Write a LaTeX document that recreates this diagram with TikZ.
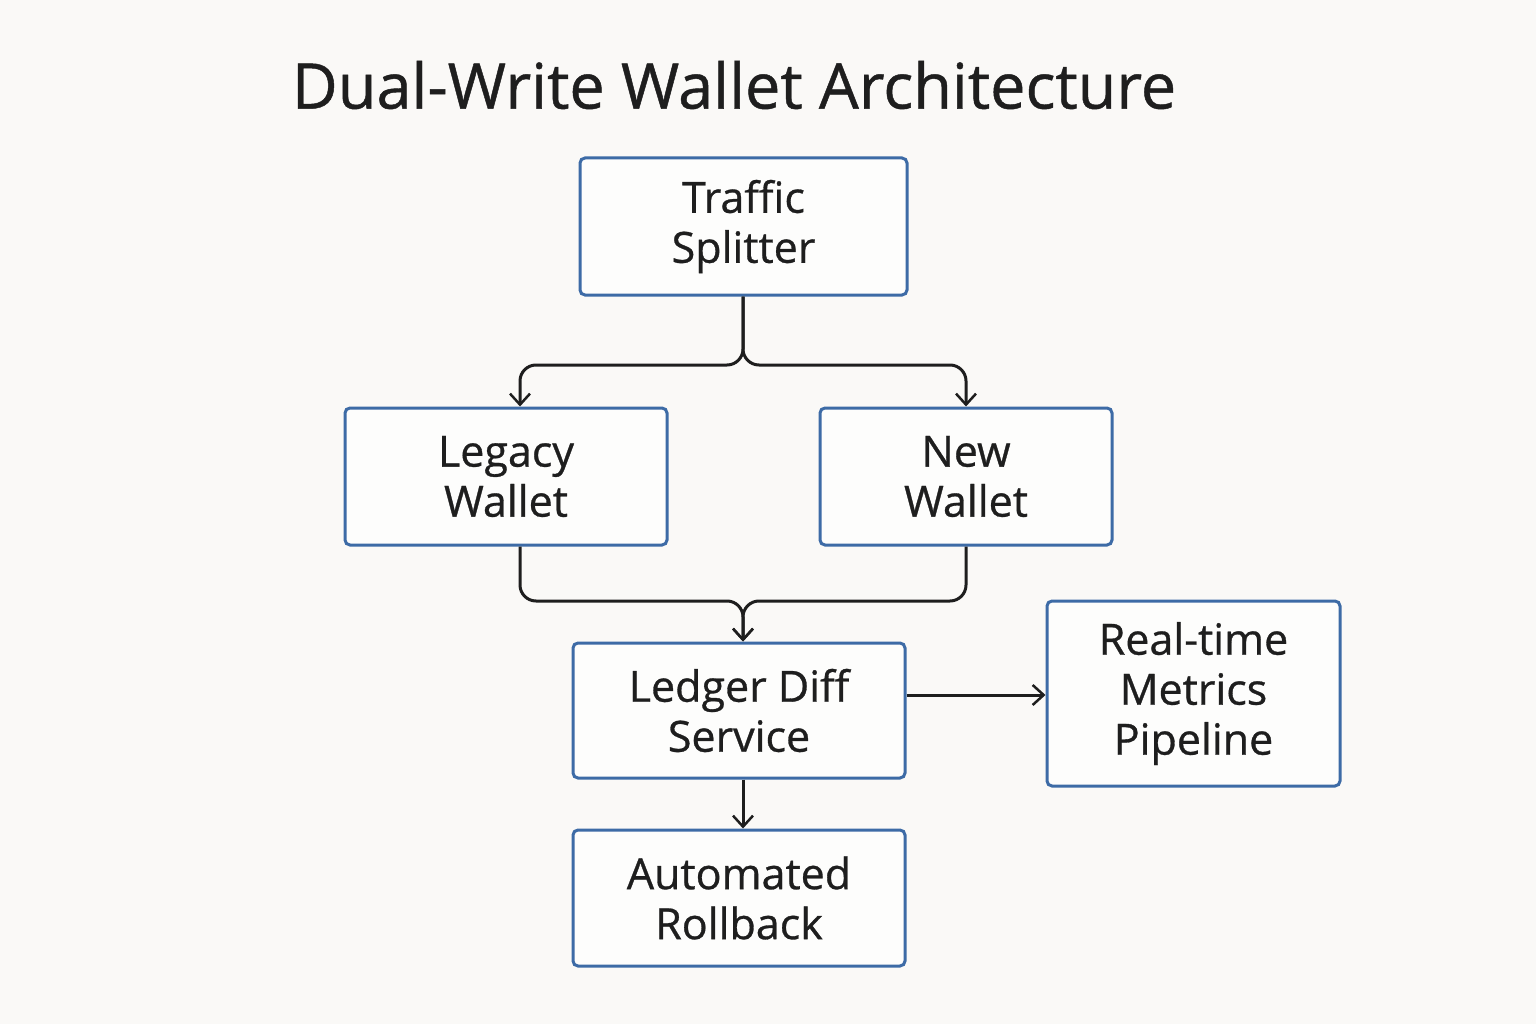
\documentclass[tikz,border=0pt]{standalone}
\usepackage{fontspec}
\setmainfont{Open Sans}[FakeBold=0.7]
\usetikzlibrary{arrows.meta}
\definecolor{bg}{HTML}{FAF9F7}
\definecolor{bd}{HTML}{3D6BA6}
\definecolor{ln}{HTML}{1E1E1E}
\begin{document}
\begin{tikzpicture}[x=1pt,y=-1pt,
 box/.style={draw=bd,line width=3pt,rounded corners=5pt,fill=white!60!bg,align=center,font=\fontsize{43}{50}\selectfont,text=ln,inner sep=0pt},
 conn/.style={draw=ln,line width=3pt,rounded corners=16pt,-{Straight Barb[length=11pt,width=20pt,line width=2.5pt]}}]
\fill[bg] (0,0) rectangle (1536,1024);
\useasboundingbox (0,0) rectangle (1536,1024);
\node[font=\fontsize{63}{70}\selectfont,text=ln] (title) at (734,85) {Dual-Write Wallet Architecture};
\node[box,minimum width=327pt,minimum height=137pt] (ts) at (743.5,226.5) {Traffic\\Splitter};
\node[box,minimum width=322pt,minimum height=137pt] (lw) at (506,476.5) {Legacy\\Wallet};
\node[box,minimum width=292pt,minimum height=137pt] (nw) at (966,476.5) {New\\Wallet};
\node[box,minimum width=332pt,minimum height=135pt] (ld) at (739,710.5) {Ledger Diff\\Service};
\node[box,minimum width=293pt,minimum height=185pt] (rt) at (1193.5,693.5) {Real-time\\Metrics\\Pipeline};
\node[box,minimum width=332pt,minimum height=136pt] (ar) at (739,898) {Automated\\Rollback};
\coordinate (s1) at (743,365);
\coordinate (m1) at (743,601);
\draw[conn] (ts.south -| s1) -- (s1) -- (520,365) -- (lw.north -| 520,0);
\draw[conn] (ts.south -| s1) -- (s1) -- (966,365) -- (nw.north -| 966,0);
\draw[conn] (lw.south -| 520,0) -- (520,601) -- (m1) -- (ld.north -| m1);
\draw[conn] (nw.south -| 966,0) -- (966,601) -- (m1) -- (ld.north -| m1);
\draw[conn] (ld.east |- 0,695) -- (rt.west |- 0,695);
\draw[conn] (ld.south -| m1) -- (ar.north -| m1);
\end{tikzpicture}
\end{document}
